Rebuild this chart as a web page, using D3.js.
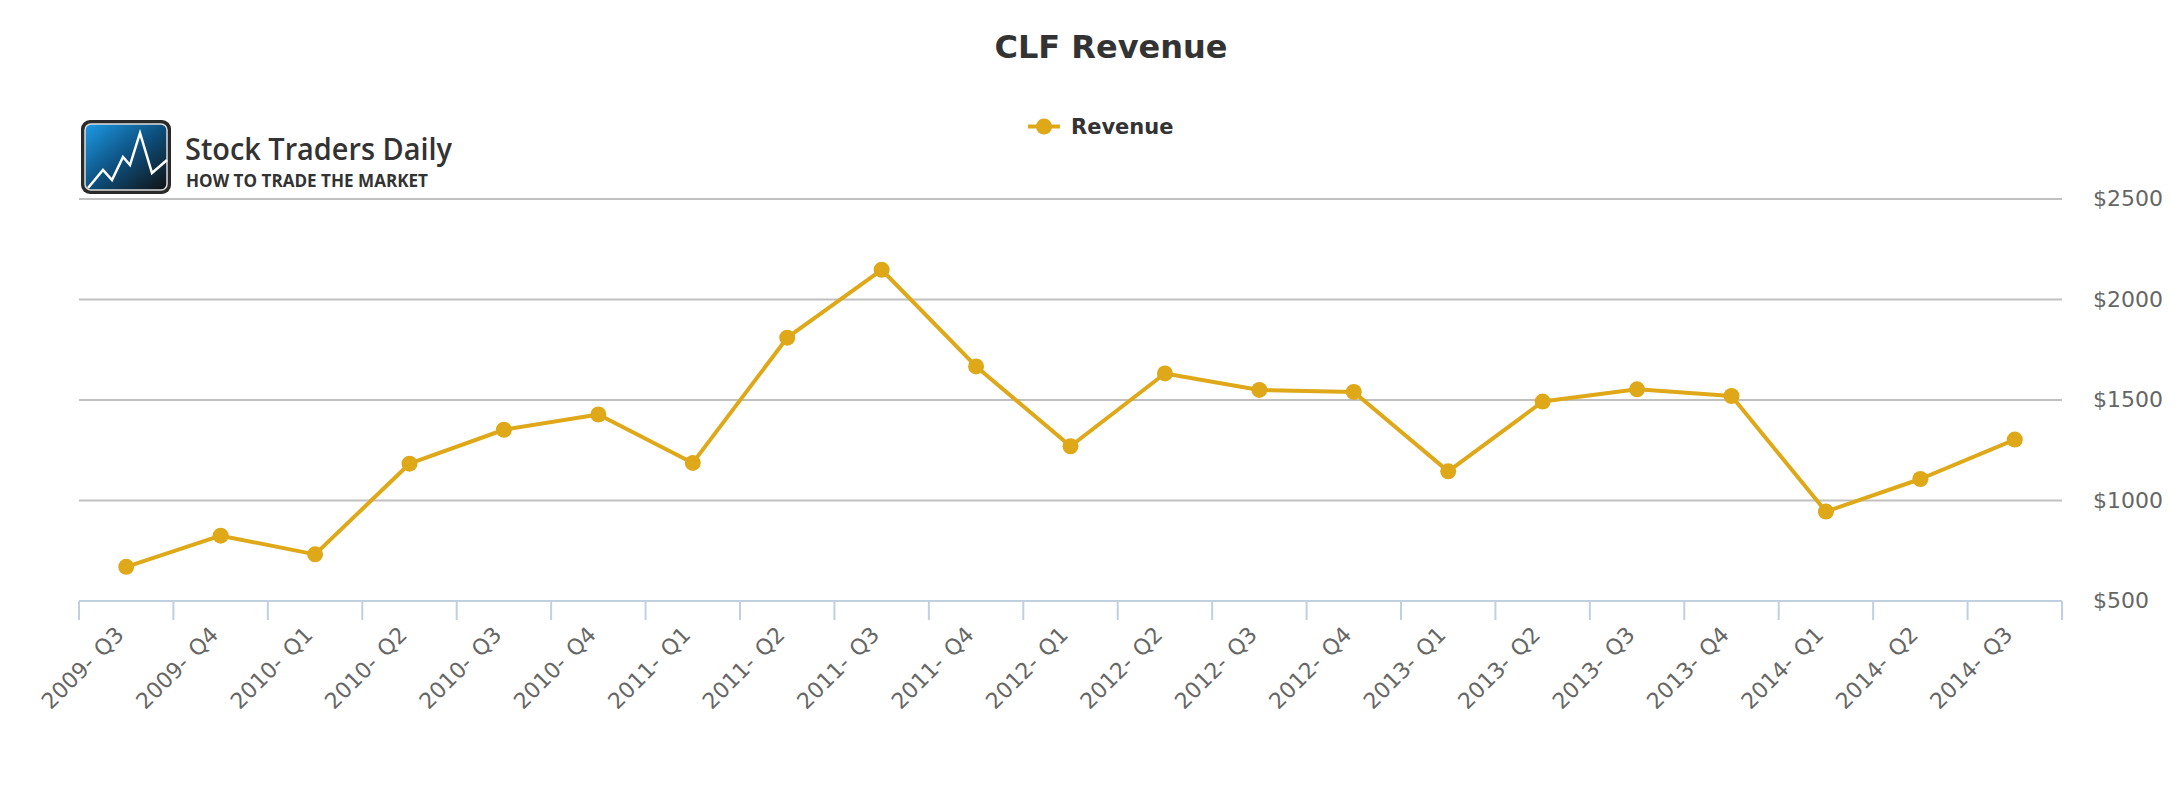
<!DOCTYPE html>
<html>
<head>
<meta charset="utf-8">
<script src="https://cdn.jsdelivr.net/npm/d3@7/dist/d3.min.js"></script>
<style>
  html, body { margin: 0; padding: 0; background: #fff; }
  svg { display: block; font-family: "DejaVu Sans", "Open Sans", sans-serif; }
</style>
</head>
<body>
<svg id="chart" width="2182" height="800"></svg>
<script>
// ---- Data ----
const categories = [
  "2009- Q3","2009- Q4","2010- Q1","2010- Q2","2010- Q3","2010- Q4",
  "2011- Q1","2011- Q2","2011- Q3","2011- Q4","2012- Q1","2012- Q2",
  "2012- Q3","2012- Q4","2013- Q1","2013- Q2","2013- Q3","2013- Q4",
  "2014- Q1","2014- Q2","2014- Q3"
];
const revenue = [
  670, 825, 732, 1183, 1352, 1428,
  1187, 1810, 2148, 1667, 1270, 1632,
  1550, 1540, 1145, 1492, 1553, 1520,
  945, 1107, 1303
];
const yTicks = [500, 1000, 1500, 2000, 2500];
const yTickLabels = ["$500", "$1000", "$1500", "$2000", "$2500"];
const seriesName = "Revenue";
const chartTitle = "CLF Revenue";

// ---- Layout ----
const svg = d3.select("#chart");
const plotLeft = 79, plotRight = 2062, plotTop = 199, plotBottom = 601;
const lineColor = "#DEA818";

const x = d3.scaleBand().domain(categories).range([plotLeft, plotRight]).padding(0);
const y = d3.scaleLinear().domain([500, 2500]).range([plotBottom, plotTop]);

// Title
svg.append("text")
  .attr("x", 1111).attr("y", 58)
  .attr("text-anchor", "middle")
  .attr("font-size", 32).attr("font-weight", "bold")
  .attr("fill", "#333")
  .text(chartTitle);

// Legend
const lg = svg.append("g");
lg.append("line").attr("x1", 1028).attr("x2", 1060).attr("y1", 126.5).attr("y2", 126.5)
  .attr("stroke", lineColor).attr("stroke-width", 4);
lg.append("circle").attr("cx", 1044).attr("cy", 126.5).attr("r", 8).attr("fill", lineColor);
lg.append("text").attr("x", 1071).attr("y", 134)
  .attr("font-size", 21).attr("font-weight", "bold").attr("fill", "#333")
  .text(seriesName);

// Logo
const defs = svg.append("defs");
const grad = defs.append("linearGradient").attr("id", "logoGrad")
  .attr("x1", "0%").attr("y1", "0%").attr("x2", "100%").attr("y2", "100%");
grad.append("stop").attr("offset", "0%").attr("stop-color", "#1d9be6");
grad.append("stop").attr("offset", "50%").attr("stop-color", "#0d4f7e");
grad.append("stop").attr("offset", "100%").attr("stop-color", "#111");
const logo = svg.append("g");
logo.append("rect").attr("x", 81).attr("y", 120).attr("width", 90).attr("height", 74)
  .attr("rx", 9).attr("fill", "#2a2a2a");
logo.append("rect").attr("x", 85).attr("y", 124).attr("width", 82).attr("height", 66)
  .attr("rx", 6).attr("fill", "url(#logoGrad)").attr("stroke", "#ddd").attr("stroke-width", 1.5);
logo.append("polyline")
  .attr("points", "88,188 103,170 112,180 123,157 130,165 140,133 152,173 167,160")
  .attr("fill", "none").attr("stroke", "#fff").attr("stroke-width", 2.5).attr("stroke-linejoin", "miter");
logo.append("text").attr("x", 185).attr("y", 160)
  .attr("font-family", "'Open Sans', sans-serif")
  .attr("font-size", 30).attr("font-weight", 600).attr("fill", "#333")
  .attr("textLength", 267).attr("lengthAdjust", "spacingAndGlyphs")
  .text("Stock Traders Daily");
logo.append("text").attr("x", 186).attr("y", 187)
  .attr("font-family", "'Open Sans', sans-serif")
  .attr("font-size", 18).attr("font-weight", "bold").attr("fill", "#333")
  .attr("textLength", 242).attr("lengthAdjust", "spacingAndGlyphs")
  .text("HOW TO TRADE THE MARKET");

// Gridlines
svg.append("g").selectAll("line")
  .data(yTicks.filter(d => d > 500))
  .join("line")
  .attr("x1", plotLeft).attr("x2", plotRight)
  .attr("y1", d => y(d)).attr("y2", d => y(d))
  .attr("stroke", "#C0C0C0").attr("stroke-width", 2);

// Y labels (right side)
svg.append("g").selectAll("text")
  .data(yTicks)
  .join("text")
  .attr("x", 2093).attr("y", d => y(d) + 7)
  .attr("font-size", 22).attr("fill", "#666")
  .text((d, i) => yTickLabels[i]);

// X axis line + ticks
const xa = svg.append("g");
xa.append("line").attr("x1", plotLeft).attr("x2", plotRight)
  .attr("y1", plotBottom).attr("y2", plotBottom)
  .attr("stroke", "#C0D0E0").attr("stroke-width", 2);
const boundaries = categories.map(c => x(c)).concat([x(categories[categories.length - 1]) + x.bandwidth()]);
xa.selectAll("line.tick").data(boundaries).join("line").attr("class", "tick")
  .attr("x1", d => d).attr("x2", d => d)
  .attr("y1", plotBottom).attr("y2", plotBottom + 19)
  .attr("stroke", "#C0D0E0").attr("stroke-width", 2);
xa.selectAll("text").data(categories).join("text")
  .attr("transform", d => `translate(${x(d) + x.bandwidth() / 2 - 1},${636}) rotate(-45)`)
  .attr("text-anchor", "end")
  .attr("font-size", 22).attr("fill", "#666")
  .attr("word-spacing", 3)
  .text(d => d);

// Line
const cx = d => x(d) + x.bandwidth() / 2;
const line = d3.line().x((d, i) => cx(categories[i])).y(d => y(d));
svg.append("path").datum(revenue)
  .attr("d", line).attr("fill", "none")
  .attr("stroke", lineColor).attr("stroke-width", 4).attr("stroke-linejoin", "round");
svg.append("g").selectAll("circle").data(revenue).join("circle")
  .attr("cx", (d, i) => cx(categories[i])).attr("cy", d => y(d))
  .attr("r", 8).attr("fill", lineColor);
</script>
</body>
</html>
